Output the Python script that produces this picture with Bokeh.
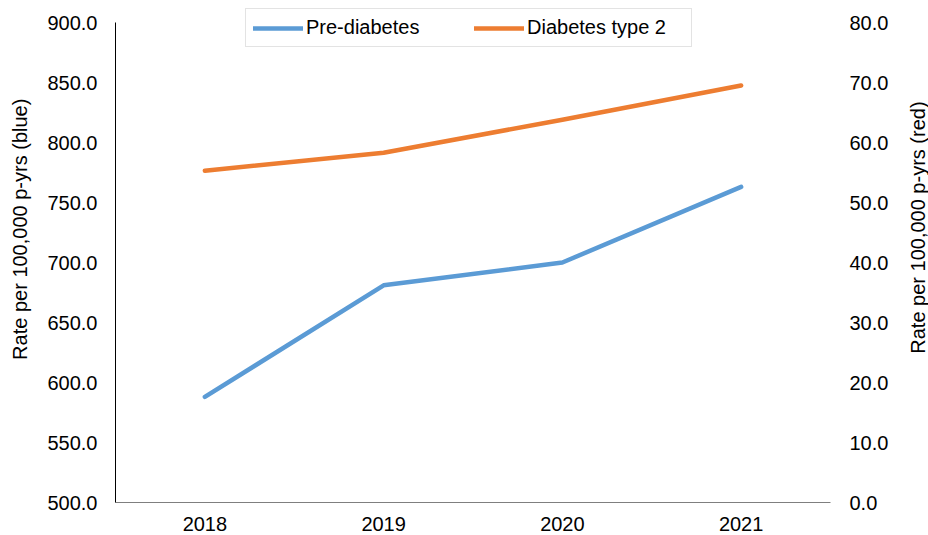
import math
from bokeh.plotting import figure
from bokeh.layouts import row
from bokeh.models import (Range1d, LinearAxis, FactorRange, SingleIntervalTicker,
                          NumeralTickFormatter, Legend, LegendItem)
from bokeh.core.properties import value
from bokeh.embed import file_html
from bokeh.resources import INLINE

years = ["2018", "2019", "2020", "2021"]
pre_diabetes = [588.0, 681.0, 700.0, 763.0]
diabetes_t2 = [55.3, 58.3, 63.8, 69.5]
left_title = "Rate per 100,000 p-yrs (blue)"
right_title = "Rate per 100,000 p-yrs (red)"

FONT = "Liberation Sans"
FS = "20px"
PAD = "\u00a0" * 8  # shifts the rotated left axis title upward, as in the reference

MAIN_W = 893
SIDE_W = 928 - MAIN_W

# frame spans y 0..502 px; 900 sits 22 px below top (1.2 px per unit left, 6 px per unit right)
p = figure(width=MAIN_W, height=535, x_range=FactorRange(*years, range_padding=0),
           y_range=Range1d(500, 900 + 22 / 1.2), output_backend="svg", toolbar_location=None,
           min_border_left=115, min_border_right=MAIN_W - 830, min_border_top=0, min_border_bottom=33)
p.extra_y_ranges = {"right": Range1d(0, 80 + 22 / 6)}
p.outline_line_color = None
p.xgrid.visible = False
p.ygrid.visible = False
p.background_fill_color = "white"
p.border_fill_color = "white"

r1 = p.line(years, pre_diabetes, line_color="#5B9BD5", line_width=4.5, line_cap="round", line_join="round")
r2 = p.line(years, diabetes_t2, line_color="#ED7D31", line_width=4.5, line_cap="round", line_join="round",
            y_range_name="right")

def style_axis(ax):
    ax.major_tick_line_color = None
    ax.minor_tick_line_color = None
    ax.major_tick_out = 0
    ax.major_tick_in = 0
    ax.minor_tick_out = 0
    ax.minor_tick_in = 0
    ax.major_label_text_font = FONT
    ax.major_label_text_font_size = FS
    ax.major_label_text_color = "#000000"
    ax.axis_label_text_font = FONT
    ax.axis_label_text_font_size = FS
    ax.axis_label_text_font_style = "normal"
    ax.axis_label_text_color = "#000000"

yl = p.yaxis[0]
style_axis(yl)
yl.ticker = SingleIntervalTicker(interval=50)
yl.formatter = NumeralTickFormatter(format="0.0")
yl.bounds = (500, 900)
yl.axis_line_color = "#000000"
yl.major_label_standoff = 18
yl.axis_label = PAD + left_title
yl.axis_label_standoff = 13

yr = LinearAxis(y_range_name="right")
style_axis(yr)
yr.ticker = SingleIntervalTicker(interval=10)
yr.formatter = NumeralTickFormatter(format="0.0")
yr.bounds = (0, 80)
yr.axis_line_color = None
yr.major_label_standoff = 19
p.add_layout(yr, "right")

xa = p.xaxis[0]
style_axis(xa)
xa.axis_line_color = "#7f7f7f"
xa.major_label_standoff = 14

legend = Legend(items=[LegendItem(label="Pre-diabetes", renderers=[r1]),
                       LegendItem(label="Diabetes type 2", renderers=[r2])],
                orientation="horizontal", location=(130, 455),
                label_text_font=FONT, label_text_font_size=FS, label_text_color="#000000",
                glyph_width=50, glyph_height=18, label_height=18, label_standoff=3, spacing=11,
                label_width=157, padding=7, margin=0,
                border_line_color="#c8c8c8", border_line_width=1,
                background_fill_color="white", background_fill_alpha=1.0)
p.add_layout(legend, "center")

# right-hand axis title (reads bottom-to-top like the reference), in a narrow side strip
side = figure(width=SIDE_W, height=535, x_range=Range1d(0, SIDE_W), y_range=Range1d(0, 535),
              output_backend="svg", toolbar_location=None, min_border=0,
              x_axis_location=None, y_axis_location=None)
side.outline_line_color = None
side.xgrid.visible = False
side.ygrid.visible = False
side.border_fill_color = "white"
side.text(x=[917 - MAIN_W], y=[535 - 242], text=[right_title], angle=math.pi / 2,
          text_align="center", text_baseline="middle", text_font=value(FONT),
          text_font_size=FS, text_color="#000000")

layout = row(p, side, spacing=0)
open("out.html", "w").write(file_html(layout, INLINE))
